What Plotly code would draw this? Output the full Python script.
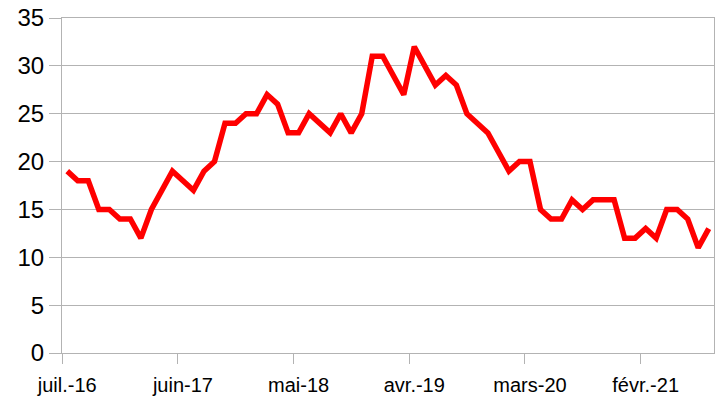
import plotly.graph_objects as go

months = ["juil.-16", "août-16", "sept.-16", "oct.-16", "nov.-16", "déc.-16",
          "janv.-17", "févr.-17", "mars-17", "avr.-17", "mai-17", "juin-17",
          "juil.-17", "août-17", "sept.-17", "oct.-17", "nov.-17", "déc.-17",
          "janv.-18", "févr.-18", "mars-18", "avr.-18", "mai-18", "juin-18",
          "juil.-18", "août-18", "sept.-18", "oct.-18", "nov.-18", "déc.-18",
          "janv.-19", "févr.-19", "mars-19", "avr.-19", "mai-19", "juin-19",
          "juil.-19", "août-19", "sept.-19", "oct.-19", "nov.-19", "déc.-19",
          "janv.-20", "févr.-20", "mars-20", "avr.-20", "mai-20", "juin-20",
          "juil.-20", "août-20", "sept.-20", "oct.-20", "nov.-20", "déc.-20",
          "janv.-21", "févr.-21", "mars-21", "avr.-21", "mai-21", "juin-21",
          "juil.-21", "août-21"]

values = [19, 18, 18, 15, 15, 14, 14, 12, 15, 17,
          19, 18, 17, 19, 20, 24, 24, 25, 25, 27,
          26, 23, 23, 25, 24, 23, 25, 23, 25, 31,
          31, 29, 27, 32, 30, 28, 29, 28, 25, 24,
          23, 21, 19, 20, 20, 15, 14, 14, 16, 15,
          16, 16, 16, 12, 12, 13, 12, 15, 15, 14,
          11, 13]

tick_labels = ["juil.-16", "juin-17", "mai-18", "avr.-19", "mars-20", "févr.-21"]

grid = "#b3b3b3"

idx = list(range(len(months)))
label_pos = [months.index(t) for t in tick_labels]
# tick marks sit on the category boundary just before each labelled month
boundary_pos = [p - 0.5 for p in label_pos]

fig = go.Figure()
fig.add_trace(go.Scatter(
    x=idx, y=values, mode="lines",
    line=dict(color="#ff0000", width=5.5),
    customdata=months, hoverinfo="skip", showlegend=False,
))

fig.update_layout(
    width=721, height=400,
    margin=dict(l=62, r=7, t=18, b=47),
    paper_bgcolor="white", plot_bgcolor="white",
    font=dict(family="Liberation Sans", size=22, color="black"),
)
fig.update_xaxes(
    type="linear", range=[-0.5, len(months) - 0.5],
    tickmode="array", tickvals=label_pos, ticktext=tick_labels,
    ticks="", tickangle=0, ticklabelstandoff=14, ticklabeloverflow="allow",
    minor=dict(tickmode="array", tickvals=boundary_pos, ticks="outside",
               ticklen=10, tickcolor=grid, tickwidth=1, showgrid=False),
    showgrid=False, showline=True, linecolor=grid, linewidth=1, mirror=True,
    zeroline=False, tickfont=dict(size=20), automargin=False,
)
fig.update_yaxes(
    range=[0, 35], dtick=5, tick0=0,
    ticks="outside", ticklen=12, tickcolor=grid, tickwidth=1,
    showgrid=True, gridcolor=grid, gridwidth=1,
    showline=True, linecolor=grid, linewidth=1, mirror=True,
    ticklabeloverflow="allow",
    zeroline=False, tickfont=dict(size=24), automargin=False,
)

fig.write_html("out.html", config={"displayModeBar": False, "staticPlot": True},
               post_script="document.body.style.margin='0';")
